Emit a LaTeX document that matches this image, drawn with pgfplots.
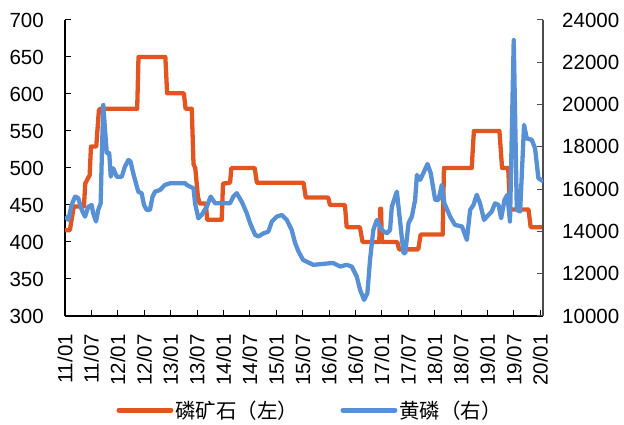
\documentclass[border=0pt]{standalone}
\usepackage{fontspec}
\setmainfont{Liberation Sans}
\newfontfamily\cjk{Noto Sans CJK SC}
\usepackage{pgfplots}
\pgfplotsset{compat=1.18}

\definecolor{rock}{RGB}{226,84,32}
\definecolor{yp}{RGB}{88,144,214}

\pgfplotsset{
  base/.style={
    width=478pt, height=296pt, scale only axis,
    xmin=0, xmax=108.6,
    tick align=inside,
    major tick length=6pt,
    tick style={line width=1pt, black},
    axis line style={line width=1.3pt, black},
    ticklabel style={font=\fontsize{20.5}{24}\selectfont, inner sep=0pt},
    scaled y ticks=false,
    /pgf/number format/assume math mode=true,
    /pgf/number format/1000 sep={},
  },
}

\begin{document}
\begin{tikzpicture}
\useasboundingbox (-65pt,-109pt) rectangle (559pt,316pt);

% left axis: phosphate rock, yuan/t
\begin{axis}[base,
  axis y line*=left, axis x line*=bottom,
  ymin=300, ymax=700, ytick={300,350,...,700},
  yticklabel shift=21pt,
  xtick={0,6,...,108},
  xticklabels={11/01,11/07,12/01,12/07,13/01,13/07,14/01,14/07,15/01,15/07,16/01,16/07,17/01,17/07,18/01,18/07,19/01,19/07,20/01},
  xticklabel style={rotate=90, anchor=east},
  xticklabel shift=18pt,
  legend columns=2,
  legend style={at={(0.513,-0.318)}, anchor=center, draw=none, fill=none,
    inner sep=0pt, font=\cjk\fontsize{20.5}{24}\selectfont,
    /tikz/every even column/.append style={column sep=40pt}},
  legend image code/.code={\draw[#1, line width=5pt, line cap=round] (0pt,0pt) -- (52pt,0pt);},
]
\addplot[rock, line width=4.3pt, line join=round] coordinates {
(0,416)(1.1,416)(1.5,430)(2.0,448)(4.3,448)(4.6,479)(5.2,486)(5.6,490)(5.9,529)(7.1,529)
(7.7,578)(8.0,580)(16.4,580)(16.7,650)(22.8,650)(23.2,601)(27.0,601)(27.4,580)(28.8,580)
(29.2,505)(29.6,500)(30.2,461)(30.6,452)(32.0,452)(32.3,430)(35.6,430)(35.9,479)(37.5,480)
(37.8,500)(43.1,500)(43.6,480)(54.2,480)(54.7,460)(59.8,460)(60.2,450)(63.6,450)(64.0,420)
(67.0,420)(67.6,400)(71.4,400)(71.6,445)(71.8,445)(72.0,400)(75.5,400)(75.9,390)(80.25,390)
(80.8,410)(85.8,410)(86.1,500)(92.4,500)(92.9,550)(98.7,550)(99.3,500)(100.7,500)(101.1,444)
(105.3,444)(105.8,420)(108.6,420)
};
\addlegendentry{磷矿石（左）}
\addlegendimage{yp}
\addlegendentry{黄磷（右）}
\end{axis}

% right axis: yellow phosphorus, yuan/t
\begin{axis}[base,
  axis y line*=right, axis x line=none,
  ymin=10000, ymax=24000, ytick={10000,12000,...,24000},
  yticklabel shift=19pt,
  y axis line style={line width=1.6pt, black!70},
  ytick style={line width=1pt, black!70},
]
\addplot[yp, line width=4.3pt, line join=round] coordinates {
(0,14700)(0.75,14550)(1.5,15250)(2.3,15650)(3.0,15580)(3.8,15020)(4.55,14700)(5.3,15170)
(6.05,15250)(6.4,14860)(7.05,14470)(7.55,15020)(8.1,15330)(8.4,17850)(8.7,19980)(9.15,18640)
(9.5,17700)(10.05,17700)(10.4,16590)(10.95,16990)(11.75,16590)(12.9,16590)(13.6,17060)
(14.4,17380)(14.9,17300)(15.5,16750)(16.65,15880)(17.4,15810)(17.95,15250)(18.55,15020)
(19.3,15020)(19.9,15650)(20.45,15880)(21.6,15960)(22.7,16200)(23.9,16280)(27.3,16280)
(27.65,16200)(29.2,16040)(29.55,15330)(30.3,14620)(31.05,14780)(32.2,15170)(33.1,15650)
(34.1,15330)(37.5,15330)(38.25,15650)(39.0,15810)(40.15,15410)(41.3,14860)(42.05,14390)
(43.2,13840)(43.95,13760)(45.1,13910)(46.2,13990)(47.0,14470)(48.1,14700)(49.25,14780)
(50.4,14540)(51.5,14070)(52.3,13440)(53.05,13050)(54.1,12650)(56.4,12420)(60.9,12510)
(62.5,12340)(64.0,12420)(65.15,12340)(66.3,11860)(67.05,11230)(67.95,10760)(68.7,11080)
(69.3,12650)(70.05,14070)(70.85,14540)(71.95,14070)(73.1,13910)(73.85,14070)(74.25,15170)
(75.4,15880)(76.1,14540)(76.9,12970)(77.3,12970)(78.05,14390)(78.8,14700)(79.55,15490)
(79.95,16670)(80.7,16440)(81.4,16750)(82.35,17190)(83.1,16750)(84.1,15490)(84.85,15490)
(85.6,16200)(86.2,15330)(87.5,14700)(88.6,14310)(90.2,14230)(91.3,13600)(92.05,15020)
(92.8,15250)(93.55,15730)(94.3,15330)(95.2,14544)(96.2,14780)(96.95,14940)(97.7,15330)
(98.5,15250)(99.1,14620)(99.85,15490)(100.5,15730)(101.1,14470)(101.95,23050)(102.65,15020)
(103.4,14940)(104.3,19040)(104.9,18400)(106.05,18330)(106.8,17930)(107.55,16520)(108.7,16360)
};
\end{axis}
\end{tikzpicture}
\end{document}
